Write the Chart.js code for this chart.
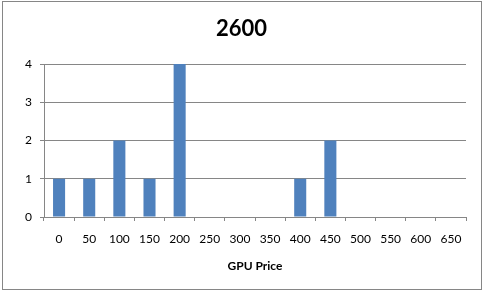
<!DOCTYPE html>
<html>
<head>
<meta charset="utf-8">
<script src="https://cdn.jsdelivr.net/npm/chart.js@4/dist/chart.umd.min.js"></script>
<style>
  body { margin: 0; background: #fff; }
  #wrap { position: relative; width: 483px; height: 291px; }
  #frame { position: absolute; left: 2px; top: 1px; width: 478px; height: 287px; border: 1px solid #868686; pointer-events: none; }
  canvas { position: absolute; left: 0; top: 0; }
</style>
</head>
<body>
<div id="wrap">
  <canvas id="gpuChart" width="483" height="291"></canvas>
  <div id="frame"></div>
</div>
<script>
var priceLabels = ['0', '50', '100', '150', '200', '250', '300', '350', '400', '450', '500', '550', '600', '650'];
var counts = [1, 1, 2, 1, 4, 0, 0, 0, 1, 2, 0, 0, 0, 0];
var yTicks = [0, 1, 2, 3, 4];

var axisGray = '#868686';
var fontFamily = 'Lato, "Open Sans", sans-serif';

var ctx = document.getElementById('gpuChart').getContext('2d');
var chart = new Chart(ctx, {
  type: 'bar',
  data: {
    labels: priceLabels,
    datasets: [{
      label: '2600',
      data: counts,
      backgroundColor: '#4f81bd',
      barPercentage: 0.4,
      categoryPercentage: 1
    }]
  },
  options: {
    responsive: false,
    animation: false,
    layout: {
      padding: 0
    },
    plugins: {
      legend: { display: false },
      tooltip: { enabled: false },
      title: {
        display: true,
        text: '2600',
        color: '#000',
        font: { family: fontFamily, size: 22, weight: 'bold' },
        padding: { top: 16, bottom: 21.6 }
      }
    },
    scales: {
      x: {
        afterFit: function (scale) { scale.height = 74; },
        border: { color: axisGray, width: 1 },
        grid: {
          drawOnChartArea: false,
          drawTicks: true,
          tickLength: 4,
          color: axisGray
        },
        ticks: {
          color: '#000',
          padding: 11,
          maxRotation: 0,
          autoSkip: false,
          font: { family: fontFamily, size: 12 }
        },
        title: {
          display: true,
          text: 'GPU Price',
          color: '#000',
          font: { family: fontFamily, size: 12, weight: 'bold' },
          padding: { top: 4, bottom: 18 }
        }
      },
      y: {
        min: yTicks[0],
        max: yTicks[yTicks.length - 1],
        afterFit: function (scale) { scale.width = 44; },
        border: { color: axisGray, width: 1 },
        grid: {
          color: axisGray,
          tickLength: 4
        },
        ticks: {
          stepSize: 1,
          color: '#000',
          padding: 8,
          font: { family: fontFamily, size: 12 }
        }
      },
      // empty right-hand strip so the title centres on the whole canvas
      spacer: {
        position: 'right',
        axis: 'y',
        afterFit: function (scale) { scale.width = 17; },
        border: { display: false },
        grid: { display: false },
        ticks: { display: false }
      }
    }
  }
});
</script>
</body>
</html>
